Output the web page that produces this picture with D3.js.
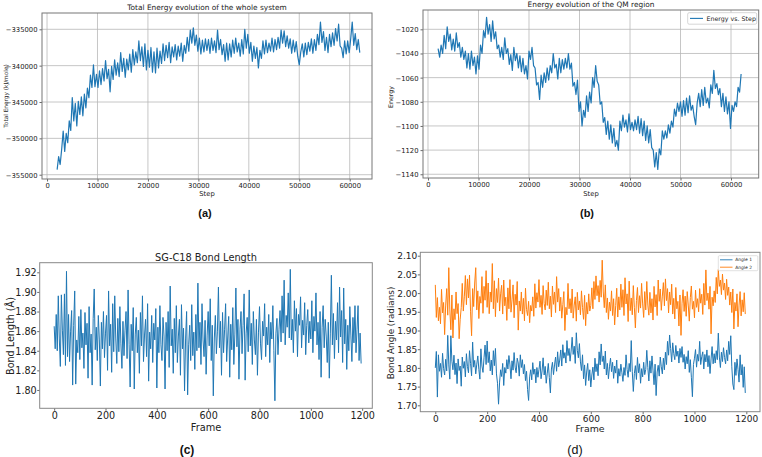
<!DOCTYPE html>
<html><head><meta charset="utf-8">
<script src="https://cdn.jsdelivr.net/npm/d3@7"></script>
<style>
body{margin:0;background:#fff;}
svg{display:block;font-family:"DejaVu Sans",sans-serif;}
</style></head><body>
<svg id="c" width="762" height="457"></svg>
<script>
// ---------- DATA ----------
const stepStart = 2000, stepEnd = 62000, stepInc = 300;
const totalEnergy = [-354300,-352500,-353600,-351500,-349000,-351800,-349300,-350600,-347600,-348900,
-344400,-347600,-345200,-348300,-344900,-346700,-344300,-346900,-343900,-345800,
-343100,-344400,-341300,-343000,-339900,-342900,-341200,-343000,-340700,-342600,
-340400,-342100,-339300,-341800,-340500,-343600,-340100,-341900,-339200,-341300,
-339600,-341500,-338200,-340800,-339000,-341600,-339100,-340600,-338400,-340900,
-337800,-339900,-338100,-339600,-336600,-339300,-337400,-340100,-337000,-340600,
-337900,-340200,-337500,-340900,-338100,-341000,-337600,-340300,-338000,-339700,
-337000,-339300,-337200,-338900,-336800,-339600,-337400,-338800,-337100,-339200,
-337300,-338700,-336900,-339400,-337200,-338300,-336100,-338000,-335100,-336900,
-334800,-337200,-335800,-338000,-336200,-338400,-336500,-338100,-336300,-337900,
-336400,-338300,-336200,-337900,-336600,-338200,-335100,-337800,-336400,-338500,
-337100,-339400,-336900,-339200,-337000,-338800,-336500,-338300,-336200,-338100,
-336900,-338700,-336400,-338400,-335000,-337600,-335700,-338300,-336800,-339400,
-337300,-339000,-337500,-340300,-337900,-339000,-336600,-338400,-336500,-338200,
-336900,-338000,-336200,-338100,-336400,-337800,-336100,-337600,-335100,-336900,
-335200,-337400,-335900,-337600,-336300,-338300,-336500,-338100,-336700,-338700,
-339900,-338100,-337000,-338800,-336900,-338500,-336800,-338000,-336300,-338300,
-336400,-337900,-335700,-337100,-334000,-336800,-335300,-337900,-336100,-338200,
-335700,-337400,-335500,-337200,-334900,-336600,-334300,-337300,-337600,-338900,
-336600,-338400,-336600,-338200,-336300,-334000,-337200,-335600,-337800,-336400,-338200];
const qmEnergy = [-1036,-1043,-1033,-1040,-1025,-1036,-1018,-1030,-1024,-1037,
-1028,-1038,-1023,-1035,-1031,-1043,-1035,-1045,-1038,-1052,
-1040,-1053,-1038,-1050,-1043,-1057,-1042,-1053,-1033,-1040,
-1021,-1027,-1010,-1024,-1016,-1030,-1013,-1028,-1022,-1036,
-1033,-1043,-1035,-1045,-1027,-1040,-1036,-1049,-1041,-1054,
-1035,-1046,-1040,-1052,-1042,-1055,-1044,-1057,-1050,-1061,
-1038,-1045,-1035,-1050,-1052,-1066,-1064,-1078,-1058,-1068,
-1056,-1064,-1052,-1062,-1050,-1056,-1040,-1052,-1049,-1061,
-1044,-1056,-1045,-1053,-1044,-1052,-1040,-1053,-1048,-1067,
-1064,-1074,-1062,-1088,-1080,-1100,-1087,-1093,-1075,-1088,
-1072,-1081,-1060,-1068,-1050,-1063,-1066,-1082,-1080,-1097,
-1093,-1107,-1096,-1111,-1099,-1114,-1102,-1117,-1112,-1120,
-1096,-1104,-1091,-1101,-1095,-1105,-1090,-1103,-1097,-1104,
-1095,-1103,-1092,-1106,-1094,-1108,-1096,-1112,-1100,-1114,
-1103,-1118,-1120,-1134,-1122,-1136,-1119,-1124,-1104,-1111,
-1104,-1110,-1099,-1106,-1096,-1101,-1086,-1092,-1081,-1088,
-1080,-1092,-1079,-1091,-1077,-1089,-1075,-1087,-1083,-1092,
-1099,-1081,-1073,-1084,-1070,-1083,-1068,-1081,-1077,-1085,
-1066,-1073,-1054,-1069,-1065,-1074,-1069,-1084,-1073,-1088,
-1076,-1090,-1080,-1102,-1083,-1088,-1080,-1084,-1068,-1072,-1057];
const frameEnd = 1200, frameInc = 4;
const bondLength = [1.865,1.842,1.877,1.840,1.896,1.852,1.824,1.897,1.861,1.836,
1.898,1.825,1.921,1.834,1.877,1.829,1.860,1.881,1.805,1.866,
1.901,1.806,1.851,1.838,1.875,1.831,1.882,1.843,1.858,1.822,
1.879,1.846,1.868,1.812,1.885,1.838,1.857,1.805,1.873,1.903,
1.841,1.864,1.830,1.876,1.851,1.804,1.869,1.842,1.880,1.833,
1.858,1.876,1.820,1.901,1.845,1.867,1.818,1.888,1.839,1.896,
1.852,1.827,1.873,1.839,1.885,1.847,1.822,1.870,1.835,1.861,
1.880,1.832,1.902,1.846,1.803,1.867,1.840,1.884,1.801,1.857,
1.874,1.838,1.861,1.817,1.879,1.845,1.896,1.829,1.856,1.872,
1.834,1.888,1.809,1.859,1.842,1.876,1.828,1.868,1.851,1.883,
1.802,1.864,1.838,1.886,1.846,1.830,1.874,1.855,1.801,1.869,
1.840,1.880,1.823,1.906,1.845,1.862,1.817,1.873,1.838,1.886,
1.828,1.855,1.872,1.815,1.887,1.842,1.863,1.799,1.852,1.880,
1.795,1.846,1.866,1.830,1.887,1.835,1.859,1.821,1.877,1.840,
1.909,1.843,1.869,1.826,1.888,1.851,1.834,1.871,1.816,1.856,
1.880,1.845,1.893,1.830,1.866,1.794,1.853,1.876,1.837,1.860,
1.905,1.843,1.870,1.815,1.879,1.838,1.862,1.888,1.829,1.853,
1.875,1.813,1.867,1.841,1.884,1.826,1.857,1.904,1.844,1.872,
1.811,1.862,1.880,1.837,1.866,1.898,1.810,1.858,1.874,1.839,
1.902,1.845,1.868,1.826,1.880,1.851,1.836,1.872,1.815,1.859,
1.885,1.847,1.831,1.870,1.855,1.888,1.834,1.864,1.846,1.877,
1.828,1.869,1.852,1.886,1.840,1.789,1.858,1.873,1.836,1.862,
1.881,1.849,1.896,1.858,1.912,1.846,1.876,1.864,1.899,1.853,
1.923,1.851,1.872,1.838,1.891,1.860,1.883,1.834,1.877,1.866,
1.895,1.843,1.871,1.856,1.889,1.836,1.866,1.882,1.848,1.870,
1.852,1.891,1.838,1.875,1.860,1.899,1.846,1.869,1.831,1.880,
1.813,1.864,1.886,1.843,1.872,1.855,1.828,1.869,1.812,1.858,
1.917,1.846,1.878,1.832,1.870,1.851,1.889,1.838,1.905,1.854,
1.881,1.828,1.904,1.847,1.872,1.821,1.866,1.840,1.885,1.856,
1.829,1.874,1.848,1.886,1.838,1.862,1.886,1.830,1.858,1.827];
const angle1 = [1.800,1.844,1.722,1.835,1.791,1.812,1.775,1.839,1.798,1.781,
1.823,1.792,1.887,1.808,1.770,1.886,1.818,1.795,1.834,1.782,
1.813,1.758,1.824,1.793,1.805,1.751,1.829,1.799,1.817,1.776,
1.838,1.804,1.787,1.846,1.812,1.779,1.869,1.802,1.820,1.784,
1.810,1.832,1.796,1.770,1.851,1.805,1.788,1.827,1.861,1.809,
1.872,1.814,1.843,1.792,1.821,1.781,1.846,1.806,1.852,1.784,
1.759,1.703,1.762,1.795,1.777,1.812,1.753,1.801,1.786,1.822,
1.797,1.833,1.808,1.771,1.819,1.794,1.841,1.802,1.787,1.826,
1.813,1.778,1.835,1.801,1.822,1.784,1.809,1.766,1.791,1.742,
1.713,1.776,1.795,1.768,1.814,1.783,1.797,1.760,1.801,1.775,
1.796,1.818,1.771,1.792,1.827,1.781,1.804,1.759,1.786,1.812,
1.774,1.733,1.797,1.815,1.782,1.808,1.829,1.791,1.843,1.803,
1.821,1.848,1.805,1.862,1.826,1.841,1.813,1.873,1.833,1.852,
1.818,1.845,1.882,1.836,1.858,1.812,1.894,1.847,1.827,1.865,
1.816,1.793,1.835,1.771,1.808,1.753,1.789,1.812,1.766,1.795,
1.749,1.781,1.802,1.768,1.826,1.790,1.811,1.779,1.843,1.808,
1.864,1.817,1.832,1.797,1.845,1.781,1.812,1.771,1.803,1.826,
1.790,1.815,1.772,1.805,1.786,1.821,1.759,1.798,1.778,1.810,
1.787,1.764,1.801,1.780,1.835,1.796,1.775,1.812,1.790,1.873,
1.791,1.737,1.785,1.806,1.769,1.828,1.787,1.811,1.759,1.798,
1.776,1.815,1.782,1.796,1.847,1.801,1.765,1.819,1.786,1.832,
1.794,1.755,1.810,1.726,1.789,1.807,1.778,1.829,1.803,1.784,
1.826,1.795,1.842,1.809,1.871,1.834,1.888,1.852,1.816,1.867,
1.838,1.822,1.860,1.831,1.845,1.813,1.852,1.828,1.857,1.815,
1.836,1.797,1.830,1.811,1.846,1.788,1.822,1.775,1.723,1.809,
1.826,1.849,1.802,1.836,1.818,1.871,1.809,1.830,1.843,1.797,
1.836,1.816,1.848,1.803,1.833,1.785,1.824,1.857,1.811,1.838,
1.813,1.846,1.822,1.893,1.829,1.801,1.842,1.817,1.854,1.828,
1.811,1.848,1.819,1.871,1.836,1.886,1.803,1.757,1.742,1.815,
1.780,1.824,1.796,1.762,1.835,1.781,1.809,1.748,1.803,1.733];
const angle2 = [2.022,1.935,1.988,1.926,1.962,1.918,2.010,1.947,1.975,1.889,
1.968,2.012,1.941,2.068,1.955,1.902,1.995,1.880,1.958,1.929,
2.003,1.945,1.972,1.878,1.930,1.961,2.026,1.952,1.990,2.047,
1.969,2.038,1.987,2.048,1.950,1.886,2.012,1.964,2.027,2.068,
1.955,2.006,1.932,1.991,1.973,2.044,1.946,2.018,1.981,2.060,
1.962,2.027,1.945,2.003,1.976,2.079,1.958,2.033,1.937,2.012,
1.975,2.040,1.952,1.998,2.021,1.944,2.035,1.966,1.989,1.927,
2.014,1.958,2.036,1.949,1.982,2.022,1.934,1.997,1.968,2.031,
1.901,1.979,1.952,2.003,1.944,1.986,1.926,2.013,1.956,1.940,
1.978,1.921,1.967,1.952,1.990,1.938,2.025,1.960,2.001,1.976,
2.036,1.962,1.994,1.943,2.020,1.972,1.955,2.008,1.967,2.029,
1.958,1.992,1.936,2.019,1.970,2.003,1.948,2.044,1.976,2.012,
1.952,1.989,1.933,1.969,2.004,1.900,1.962,1.942,2.026,1.958,
1.985,1.947,2.011,1.933,1.968,1.990,1.925,2.002,1.955,1.979,
1.942,2.006,1.961,1.930,1.994,1.913,1.975,1.944,1.998,1.952,
1.967,2.014,1.958,2.031,1.983,2.046,1.993,2.020,1.976,2.034,
1.989,2.088,2.003,1.961,2.022,1.948,1.987,1.930,1.976,1.952,
2.006,1.940,1.985,1.915,1.967,2.013,1.936,1.990,1.955,2.024,
1.962,2.009,1.940,2.041,1.971,1.998,1.924,2.032,1.953,1.987,
1.942,2.020,1.962,1.907,1.980,2.015,1.948,1.993,1.960,2.026,
1.971,1.935,2.004,1.955,2.031,1.968,1.941,2.002,1.947,1.985,
1.928,2.018,1.963,1.996,1.940,2.035,1.978,2.011,1.954,1.992,
2.028,1.966,2.038,1.980,2.012,1.947,2.003,1.969,2.024,1.944,
1.986,1.931,2.015,1.958,1.978,1.912,1.995,1.887,1.973,2.009,
1.951,1.992,1.938,2.004,1.968,1.925,1.988,2.019,1.957,1.978,
1.934,2.008,1.962,1.985,1.950,2.012,1.973,1.997,1.943,2.026,
1.968,2.062,1.980,2.000,1.957,2.018,1.891,1.989,1.966,2.006,
1.975,2.042,1.998,2.063,2.018,2.035,1.996,2.051,2.008,2.027,
1.983,2.037,1.994,2.016,1.968,2.003,1.948,2.011,1.904,1.975,
1.952,1.998,1.910,1.968,2.004,1.939,1.982,1.950,2.001,1.944];
const stepTicks = [0,10000,20000,30000,40000,50000,60000];
const totalTicks = [-355000,-350000,-345000,-340000,-335000];
const qmTicks = [-1140,-1120,-1100,-1080,-1060,-1040,-1020];
const frameTicks = [0,200,400,600,800,1000,1200];
const bondTicks = [1.80,1.82,1.84,1.86,1.88,1.90,1.92];
const angleTicks = [1.70,1.75,1.80,1.85,1.90,1.95,2.00,2.05,2.10];
const blue = "#1f77b4", orange = "#ff7f0e";

const steps = d3.range(stepStart, stepEnd + 1, stepInc);
const frames = d3.range(0, frameEnd, frameInc);
const svg = d3.select("#c");

function panel(o){
  const g = svg.append("g");
  const x = d3.scaleLinear().domain(o.xd).range([o.x0, o.x1]);
  const y = d3.scaleLinear().domain(o.yd).range([o.y1, o.y0]);
  if (o.grid){
    g.selectAll(".gx").data(o.xt).join("line")
      .attr("x1", d=>x(d)).attr("x2", d=>x(d)).attr("y1", o.y0).attr("y2", o.y1)
      .attr("stroke", "#b8b8b8").attr("stroke-width", 0.8);
    g.selectAll(".gy").data(o.yt).join("line")
      .attr("y1", d=>y(d)).attr("y2", d=>y(d)).attr("x1", o.x0).attr("x2", o.x1)
      .attr("stroke", "#b8b8b8").attr("stroke-width", 0.8);
  }
  const line = d3.line().x(d=>x(d[0])).y(d=>y(d[1]));
  o.series.forEach(s=>{
    g.append("path").datum(s.xs.map((v,i)=>[v, s.ys[i]]))
      .attr("d", line).attr("fill","none").attr("stroke", s.color)
      .attr("stroke-width", o.lw).attr("stroke-linejoin","round");
  });
  const xa = g.append("g").attr("transform", `translate(0,${o.y1})`)
    .call(d3.axisBottom(x).tickValues(o.xt).tickFormat(o.xf).tickSize(o.ts).tickSizeOuter(0));
  const ya = g.append("g").attr("transform", `translate(${o.x0},0)`)
    .call(d3.axisLeft(y).tickValues(o.yt).tickFormat(o.yf).tickSize(o.ts).tickSizeOuter(0));
  [xa, ya].forEach(a=>{
    a.select(".domain").remove();
    a.selectAll("line").attr("stroke","#444").attr("stroke-width",0.8);
    a.selectAll("text").attr("fill","#222").style("font-size", o.fs+"px")
      .style("font-family","'DejaVu Sans',sans-serif");
  });
  xa.selectAll("text").attr("dy", null).attr("y", o.xpad + o.fs*0.76);
  ya.selectAll("text").attr("x", -o.ypad).attr("dy", "0.35em");
  g.append("rect").attr("x", o.x0).attr("y", o.y0).attr("width", o.x1-o.x0).attr("height", o.y1-o.y0)
    .attr("fill","none").attr("stroke", o.frame).attr("stroke-width", 1);
  return {g, x, y};
}

function txt(x, y, s, size, opts={}){
  const t = svg.append("text").attr("x", x).attr("y", y).text(s)
    .attr("text-anchor", opts.anchor || "middle").attr("fill", opts.fill || "#222")
    .style("font-size", size+"px").style("font-family", opts.family || "'DejaVu Sans',sans-serif")
    .style("font-weight", opts.weight || "normal");
  if (opts.rot) t.attr("transform", `rotate(-90,${x},${y})`);
  return t;
}

// (a)
panel({x0:42, x1:372, y0:13, y1:179, xd:[-1000,64420], yd:[-355591,-332758],
  xt:stepTicks, yt:totalTicks, xf:d3.format("d"), yf:d3.format("d"), grid:true, ts:2.5, xpad:3.5, ypad:4.5, fs:6.8, lw:1.2,
  frame:"#777", series:[{xs:steps, ys:totalEnergy, color:blue}]});
txt(207, 9.5, "Total Energy evolution of the whole system", 7.4);
txt(207, 196, "Step", 6.8);
txt(7.5, 96, "Total Energy (kJ/mole)", 5.8, {rot:true});
txt(205, 217, "(a)", 11, {weight:"bold", family:"'Liberation Sans',Arial,sans-serif", fill:"#111"});

// (b)
panel({x0:423, x1:758.7, y0:10, y1:178, xd:[-990,65485], yd:[-1143.1,-1004],
  xt:stepTicks, yt:qmTicks, xf:d3.format("d"), yf:d3.format("d"), grid:true, ts:2.5, xpad:3.5, ypad:4.5, fs:6.8, lw:1.2,
  frame:"#777", series:[{xs:steps, ys:qmEnergy, color:blue}]});
txt(591, 6.8, "Energy evolution of the QM region", 7.4);
txt(591, 196, "Step", 6.8);
txt(393, 97, "Energy", 6.3, {rot:true});
svg.append("rect").attr("x",687.7).attr("y",12.7).attr("width",69).attr("height",11.5)
  .attr("fill","#fff").attr("stroke","#ccc").attr("stroke-width",0.8).attr("rx",1.5);
svg.append("line").attr("x1",690).attr("x2",703).attr("y1",18.4).attr("y2",18.4).attr("stroke",blue).attr("stroke-width",1.1);
txt(706.5, 20.6, "Energy vs. Step", 6.3, {anchor:"start"});
txt(587, 217, "(b)", 11, {weight:"bold", family:"'Liberation Sans',Arial,sans-serif", fill:"#111"});

// (c)
panel({x0:39.7, x1:372.3, y0:262.7, y1:408.3, xd:[-56.4,1239.5], yd:[1.7813,1.9298],
  xt:frameTicks, yt:bondTicks, xf:d3.format("d"), yf:d3.format(".2f"), grid:false, ts:2.5, xpad:3, ypad:3, fs:9.6, lw:1.0,
  frame:"#888", series:[{xs:frames, ys:bondLength, color:blue}]});
txt(206, 260.5, "SG-C18 Bond Length", 9.8);
txt(206, 431, "Frame", 9.8);
txt(13.5, 336, "Bond Length (Å)", 9.6, {rot:true});
txt(187, 454, "(c)", 12, {weight:"bold", family:"'Liberation Sans',Arial,sans-serif", fill:"#111"});

// (d)
panel({x0:420.3, x1:760, y0:252.3, y1:411.7, xd:[-57.9,1252.8], yd:[1.6829,2.1091],
  xt:frameTicks, yt:angleTicks, xf:d3.format("d"), yf:d3.format(".2f"), grid:false, ts:2.5, xpad:3, ypad:3, fs:9.0, lw:1.0,
  frame:"#888", series:[{xs:frames, ys:angle1, color:blue},{xs:frames, ys:angle2, color:orange}]});
txt(590, 432, "Frame", 9.4);
txt(393.5, 333, "Bond Angle (radians)", 8.8, {rot:true});
svg.append("rect").attr("x",718.3).attr("y",255.7).attr("width",39.5).attr("height",15)
  .attr("fill","#fff").attr("stroke","#ccc").attr("stroke-width",0.6).attr("rx",1);
[["Angle 1",blue,259.8],["Angle 2",orange,267.2]].forEach(([n,c,yy])=>{
  svg.append("line").attr("x1",720).attr("x2",732.5).attr("y1",yy).attr("y2",yy).attr("stroke",c).attr("stroke-width",0.9);
  txt(735.3, yy+1.6, n, 4.4, {anchor:"start"});
});
txt(575, 454, "(d)", 12.5, {family:"'Liberation Sans',Arial,sans-serif", fill:"#111"});
</script>
</body></html>
